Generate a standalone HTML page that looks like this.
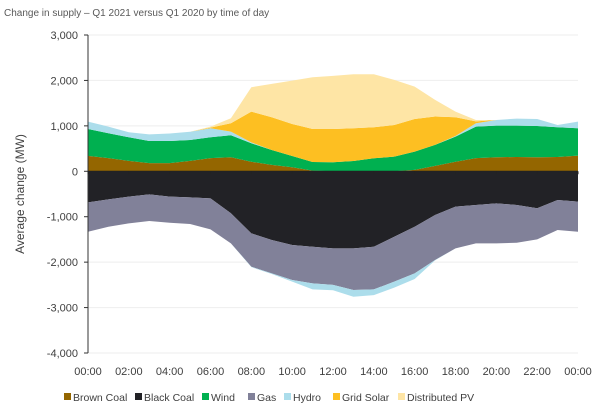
<!DOCTYPE html>
<html><head><meta charset="utf-8"><style>
body{margin:0;background:#fff;font-family:"Liberation Sans",sans-serif;}
svg text{font-family:"Liberation Sans",sans-serif;}
</style></head><body>
<svg id="c" width="604" height="412" viewBox="0 0 604 412">
<text x="4" y="16" font-size="10" fill="#595959">Change in supply – Q1 2021 versus Q1 2020 by time of day</text>
<text transform="translate(24,194) rotate(-90)" text-anchor="middle" font-size="12" fill="#404040">Average change (MW)</text>
<g id="grid"></g><g id="areas"></g><g id="axes"></g><g id="legend"></g>
</svg>
<script>
const hours=[0,1,2,3,4,5,6,7,8,9,10,11,12,13,14,15,16,17,18,19,20,21,22,23,24];
const brownCoal=[340,290,230,180,180,230,290,310,210,140,90,15,0,0,0,0,30,120,210,290,310,315,310,315,345];
const wind=[592,547,519,487,487,460,459,483,407,329,247,190,198,227,286,322,402,460,553,693,695,690,688,654,602];
const hydroPos=[160,145,110,145,165,180,198,80,20,0,0,0,0,0,0,0,0,0,15,74,125,155,152,51,146];
const gridSolar=[0,0,0,0,0,0,15,184,676,720,705,727,734,720,683,698,718,625,412,43,0,0,0,0,0];
const distPV=[0,0,0,0,0,0,20,110,537,734,954,1138,1168,1190,1168,991,714,366,123,30,0,0,0,0,0];
const blackCoal=[-683,-617,-558,-507,-558,-573,-595,-925,-1366,-1513,-1624,-1660,-1696,-1696,-1660,-1440,-1220,-962,-779,-742,-705,-742,-815,-632,-668];
const gas=[-647,-603,-588,-588,-574,-588,-683,-661,-735,-734,-770,-807,-804,-918,-940,-990,-1027,-992,-917,-844,-881,-830,-683,-661,-662];
const hydroNeg=[0,0,0,0,0,0,0,0,-10,-13,-36,-133,-120,-148,-125,-130,-123,-6,0,0,0,0,0,0,0];
const yTicks=[3000,2000,1000,0,-1000,-2000,-3000,-4000];
const xLabels=["00:00","02:00","04:00","06:00","08:00","10:00","12:00","14:00","16:00","18:00","20:00","22:00","00:00"];
const legendNames=["Brown Coal","Black Coal","Wind","Gas","Hydro","Grid Solar","Distributed PV"];
const legendColors=["#946600","#222226","#00B050","#818199","#ACDDEB","#FDBF22","#FEE5A5"];

const NS="http://www.w3.org/2000/svg";
const X0=88,X1=578,Y0=35,Y1=353;
const xs=h=>X0+(X1-X0)*h/24;
const ys=v=>Y0+(Y1-Y0)*(3000-v)/7000;
function mk(t,a,p){const e=document.createElementNS(NS,t);for(const k in a)e.setAttribute(k,a[k]);p.appendChild(e);return e;}
const grid=document.getElementById('grid');
yTicks.forEach(v=>{
  const l=mk('line',{x1:X0,x2:X1,y1:ys(v),y2:ys(v),stroke:'#eeeeee','stroke-width':1},grid);
  
  
  const t=mk('text',{x:78,y:ys(v)+4,'text-anchor':'end','font-size':11,fill:'#404040'},grid);
  t.textContent=v.toLocaleString('en-US');
  
  
});
const areas=document.getElementById('areas');
function stack(series,colors,names){
  let base=hours.map(()=>0);
  series.forEach((s,i)=>{
    const top=base.map((b,j)=>b+s[j]);
    let d='M'+hours.map((h,j)=>xs(h)+','+ys(top[j])).join('L');
    d+='L'+hours.slice().reverse().map((h,k)=>{const j=hours.length-1-k;return xs(h)+','+ys(base[j]);}).join('L')+'Z';
    const p=mk('path',{d:d,fill:colors[i]},areas);
    
    
    base=top;
  });
}
stack([brownCoal,wind,hydroPos,gridSolar,distPV],["#946600","#00B050","#ACDDEB","#FDBF22","#FEE5A5"],["area-brown-coal","area-wind","area-hydro","area-grid-solar","area-distributed-pv"]);
stack([blackCoal,gas,hydroNeg],["#222226","#818199","#ACDDEB"],["area-black-coal","area-gas","area-hydro-negative"]);
const axes=document.getElementById('axes');
const ya=mk('line',{x1:X0,x2:X0,y1:Y0,y2:Y1,stroke:'#333','stroke-width':1},axes);


yTicks.forEach(v=>{mk('line',{x1:X0-4,x2:X0,y1:ys(v),y2:ys(v),stroke:'#333'},axes);});
const xa=mk('line',{x1:X0,x2:X1,y1:ys(0),y2:ys(0),stroke:'#222','stroke-width':1},axes);


xLabels.forEach((s,i)=>{
  const x=xs(i*2);
  mk('line',{x1:x,x2:x,y1:ys(0),y2:ys(0)+3,stroke:'#222'},axes);
  const t=mk('text',{x:x,y:375,'text-anchor':'middle','font-size':11,fill:'#404040'},axes);
  t.textContent=s;
  
  
});
const lg=document.getElementById('legend');
const lx=[64,135,202,248,284,333,398];
legendNames.forEach((n,i)=>{
  const g=mk('g',{},lg);
  
  
  mk('rect',{x:lx[i],y:393,width:7,height:7,fill:legendColors[i]},g);
  const t=mk('text',{x:lx[i]+9,y:401,'font-size':10.5,fill:'#404040'},g);
  t.textContent=n;
});
</script>
</body></html>
